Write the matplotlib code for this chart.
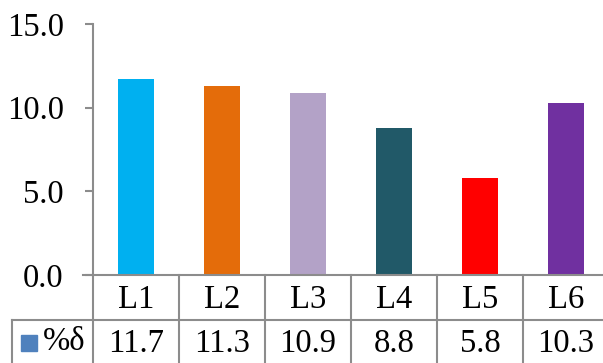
import matplotlib
matplotlib.use("Agg")
import matplotlib.pyplot as plt
from matplotlib.transforms import blended_transform_factory
from matplotlib.patches import Rectangle

plt.rcParams['font.family'] = ['Liberation Serif', 'DejaVu Serif']

labels = ['L1', 'L2', 'L3', 'L4', 'L5', 'L6']
values = [11.7, 11.3, 10.9, 8.8, 5.8, 10.3]
colors = ['#00B0F0', '#E46C0A', '#B3A2C7', '#215968', '#FF0000', '#7030A0']
series_name = '%δ'
yticks = [0, 5, 10, 15]

W, H = 603, 363
fig = plt.figure(figsize=(W / 100, H / 100), dpi=100)
# plot area in pixels: left 93, right ~609 (runs past the edge), top 24, bottom 275
ax = fig.add_axes([93 / W, (H - 275) / H, (609 - 93) / W, (275 - 24) / H])

grid = '#8C8C8C'
fs = 23.5

x = range(len(labels))
ax.bar(x, values, width=0.41, color=colors, zorder=2)
ax.set_xlim(-0.5, len(labels) - 0.5)
ax.set_ylim(0, 15)
ax.set_yticks(yticks)
ax.set_yticklabels(['{:.1f}'.format(v) for v in yticks], fontsize=fs)
ax.set_xticks([])

for s in ['top', 'right', 'bottom']:
    ax.spines[s].set_visible(False)
ax.spines['left'].set_color(grid)
ax.spines['left'].set_linewidth(1.5)
ax.tick_params(axis='y', length=6, width=1.5, color=grid, pad=15)

# data table under the bars
row_h = 45 / 251.0
tr = blended_transform_factory(ax.transData, ax.transAxes)
ax.plot([-0.5 - 10 / 86, len(labels) - 0.5], [0, 0], color=grid, lw=1.5,
        transform=tr, clip_on=False, zorder=3)
ax.plot([-0.5 - 81 / 86, len(labels) - 0.5], [-row_h, -row_h], color=grid, lw=1.5,
        transform=tr, clip_on=False)
ax.plot([-0.5, -0.5], [0, -2 * row_h], color=grid, lw=1.5,
        transform=tr, clip_on=False)
ax.plot([-0.5 - 81 / 86, -0.5 - 81 / 86], [-row_h, -2 * row_h], color=grid, lw=1.5,
        transform=tr, clip_on=False)
for i in range(len(labels)):
    ax.plot([i + 0.5, i + 0.5], [0, -2 * row_h], color=grid, lw=1.5,
            transform=tr, clip_on=False)
    ax.text(i, -row_h / 2 - 0.01, labels[i], ha='center', va='center',
            fontsize=fs, transform=tr)
    ax.text(i, -1.5 * row_h - 0.005, '{:.1f}'.format(values[i]), ha='center',
            va='center', fontsize=fs, transform=tr)

# legend key for the series row
fig.patches.append(Rectangle((21 / W, (H - 351) / H), 16 / W, 16 / H,
                             transform=fig.transFigure, color='#4F81BD'))
fig.text(43 / W, (H - 342) / H, series_name, ha='left', va='center', fontsize=fs)

fig.savefig('out.png', dpi=100)
